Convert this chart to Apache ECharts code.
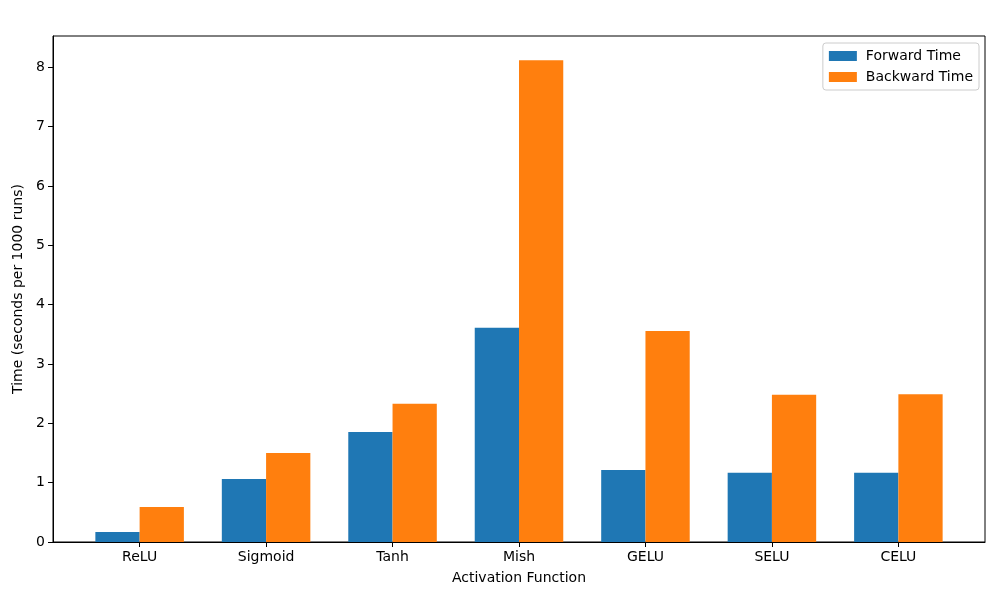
<!DOCTYPE html>
<html>
<head>
<meta charset="utf-8">
<script src="https://cdn.jsdelivr.net/npm/echarts@6/dist/echarts.min.js"></script>
<style>html,body{margin:0;padding:0;background:#fff;}#c{width:1000px;height:600px;}</style>
</head>
<body>
<div id="c"></div>
<script>
const categories = ['ReLU', 'Sigmoid', 'Tanh', 'Mish', 'GELU', 'SELU', 'CELU'];
const forwardTime = [0.17, 1.06, 1.855, 3.61, 1.215, 1.165, 1.165];
const backwardTime = [0.59, 1.50, 2.33, 8.12, 3.555, 2.48, 2.49];
const yTicks = [0, 1, 2, 3, 4, 5, 6, 7, 8];

const barW = 0.35;
const catIdx = categories.map((_, i) => i);
const font = 'DejaVu Sans';

function makeBar(values, offset, color, name) {
  return {
    type: 'custom',
    name: name,
    itemStyle: { color: color },
    data: values.map((v, i) => [i, v]),
    encode: { x: 0, y: 1 },
    renderItem: function (params, api) {
      const x = api.value(0), v = api.value(1);
      const p1 = api.coord([x + offset, v]);
      const p2 = api.coord([x + offset + barW, 0]);
      return {
        type: 'rect',
        shape: { x: p1[0], y: p1[1], width: p2[0] - p1[0], height: p2[1] - p1[1] },
        style: { fill: color }
      };
    }
  };
}

const chart = echarts.init(document.getElementById('c'), null, { renderer: 'canvas' });
chart.setOption({
  animation: false,
  backgroundColor: '#fff',
  textStyle: { fontFamily: font },
  grid: { left: 53, right: 15, top: 36, bottom: 58, show: true, borderColor: '#000', borderWidth: 1, containLabel: false },
  legend: {
    right: 21, top: 43, orient: 'vertical',
    itemWidth: 28, itemHeight: 10, itemGap: 7,
    icon: 'rect',
    padding: [6, 6, 6, 6],
    borderColor: '#cccccc', borderWidth: 1, borderRadius: 3,
    backgroundColor: 'rgba(255,255,255,0.8)',
    textStyle: { fontFamily: font, fontSize: 14, color: '#000', padding: [0, 0, 0, 4] },
    data: ['Forward Time', 'Backward Time']
  },
  xAxis: {
    type: 'value', min: -0.685, max: 6.685,
    name: 'Activation Function', nameLocation: 'middle', nameGap: 29,
    nameTextStyle: { fontFamily: font, fontSize: 14, color: '#000' },
    axisLine: { show: true, onZero: false, lineStyle: { color: '#000', width: 1 } },
    axisTick: { show: true, length: 5, lineStyle: { color: '#000' }, customValues: catIdx },
    axisLabel: { show: true, customValues: catIdx, margin: 8, fontFamily: font, fontSize: 14, color: '#000',
      formatter: v => categories[Math.round(v)] },
    splitLine: { show: false }
  },
  yAxis: {
    type: 'value', min: 0, max: 8.527,
    name: 'Time (seconds per 1000 runs)', nameLocation: 'middle', nameGap: 25, nameRotate: 90,
    nameTextStyle: { fontFamily: font, fontSize: 14, color: '#000' },
    axisLine: { show: true, onZero: false, lineStyle: { color: '#000', width: 1 } },
    axisTick: { show: true, length: 5, lineStyle: { color: '#000' }, customValues: yTicks },
    axisLabel: { show: true, customValues: yTicks, margin: 8, fontFamily: font, fontSize: 14, color: '#000' },
    splitLine: { show: false }
  },
  series: [
    makeBar(forwardTime, -barW, '#1f77b4', 'Forward Time'),
    makeBar(backwardTime, 0, '#ff7f0e', 'Backward Time')
  ]
});
</script>
</body>
</html>
